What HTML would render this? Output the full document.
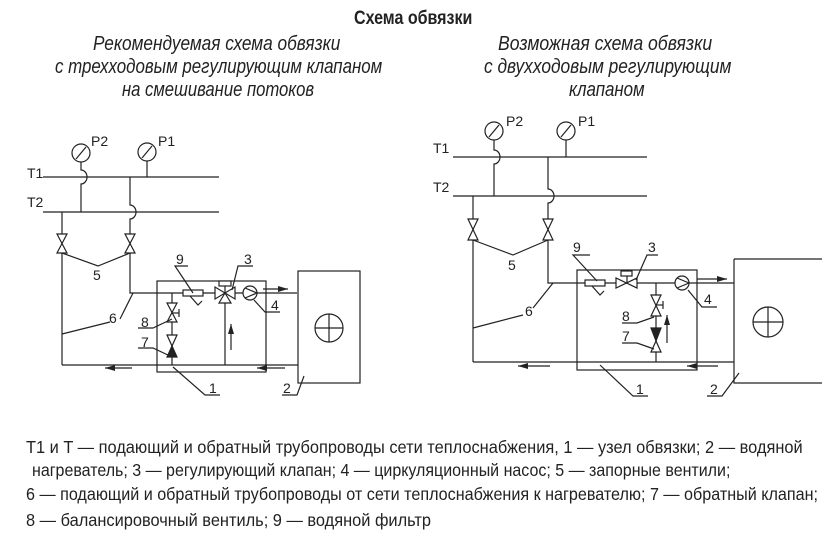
<!DOCTYPE html>
<html><head><meta charset="utf-8"><style>
html,body{margin:0;padding:0;background:#fff;width:822px;height:551px;overflow:hidden}
svg{display:block}
text{font-family:"Liberation Sans",sans-serif;fill:#222}
</style></head><body>
<svg width="822" height="551" viewBox="0 0 822 551" xmlns="http://www.w3.org/2000/svg">
<defs>
<marker id="ar" viewBox="0 0 10 6" refX="10" refY="3" markerWidth="10" markerHeight="6" markerUnits="userSpaceOnUse" orient="auto"><path d="M0,0 L10,3 L0,6 Z" fill="#222"/></marker>
</defs>
<text transform="translate(354,24) scale(0.8,1)" font-size="19" font-weight="bold" textLength="148" lengthAdjust="spacingAndGlyphs">Схема обвязки</text>
<g font-size="20" font-style="italic">
<text transform="translate(93,50) scale(0.85,1)" textLength="291" lengthAdjust="spacingAndGlyphs">Рекомендуемая схема обвязки</text>
<text transform="translate(55,73) scale(0.85,1)" textLength="385" lengthAdjust="spacingAndGlyphs">с трехходовым регулирующим клапаном</text>
<text transform="translate(122,96) scale(0.85,1)" textLength="226" lengthAdjust="spacingAndGlyphs">на смешивание потоков</text>
<text transform="translate(498,50) scale(0.85,1)" textLength="252" lengthAdjust="spacingAndGlyphs">Возможная схема обвязки</text>
<text transform="translate(484,73) scale(0.85,1)" textLength="291" lengthAdjust="spacingAndGlyphs">с двухходовым регулирующим</text>
<text transform="translate(569,96) scale(0.85,1)" textLength="89" lengthAdjust="spacingAndGlyphs">клапаном</text>
</g>
<g font-size="18">
<text transform="translate(26,453) scale(0.9,1)" textLength="863" lengthAdjust="spacingAndGlyphs">T1 и T   — подающий и обратный трубопроводы сети теплоснабжения, 1 — узел обвязки;   2 — водяной</text>
<text transform="translate(32,476) scale(0.9,1)" textLength="776" lengthAdjust="spacingAndGlyphs">нагреватель;   3 — регулирующий клапан; 4 — циркуляционный насос; 5 — запорные вентили;</text>
<text transform="translate(26,500) scale(0.9,1)" textLength="880" lengthAdjust="spacingAndGlyphs">6 — подающий и обратный трубопроводы от сети теплоснабжения к нагревателю; 7 — обратный клапан;</text>
<text transform="translate(26,526) scale(0.9,1)" textLength="450" lengthAdjust="spacingAndGlyphs">8 — балансировочный вентиль; 9 — водяной фильтр</text>
</g>

<!-- LEFT DIAGRAM -->
<g stroke="#222" stroke-width="1.2" fill="none">
<line x1="43" y1="177" x2="219" y2="177"/>
<line x1="43" y1="212" x2="219" y2="212"/>
<circle cx="81" cy="153" r="9"/><line x1="76" y1="159" x2="86" y2="147"/>
<circle cx="147" cy="152" r="9"/><line x1="142" y1="158" x2="152" y2="146"/>
<line x1="147" y1="161" x2="147" y2="177"/>
<path d="M81,162 L81,170 A6,7 0 0 1 81,184 L81,212"/>
<path d="M130,177 L130,205 A6,7 0 0 1 130,219 L130,293 L297,293"/>
<line x1="62" y1="212" x2="62" y2="365"/>
<line x1="62" y1="365" x2="298" y2="365"/>
<path d="M57,234 L67,234 L57,253 L67,253 Z" fill="#fff"/>
<path d="M125,234 L135,234 L125,253 L135,253 Z" fill="#fff"/>
<polyline points="62,253 98,266 130,253"/>
<rect x="157" y="281" width="109" height="91"/>
<rect x="298" y="271" width="62" height="112"/>
<circle cx="329" cy="328" r="14"/><line x1="315" y1="328" x2="343" y2="328"/><line x1="329" y1="314" x2="329" y2="342"/>
<rect x="183" y="290" width="20" height="6" fill="#fff"/><path d="M190,296 L198,305 L202,301"/>
<path d="M215,287 L215,299 L235,287 L235,299 Z" fill="#fff"/>
<path d="M219,303 L231,303 L225,293 Z" fill="#fff"/>
<rect x="219" y="281" width="12" height="5" fill="#fff"/><line x1="225" y1="286" x2="225" y2="293"/>
<line x1="225" y1="303" x2="225" y2="365"/>
<circle cx="250" cy="293" r="7" fill="#fff"/><path d="M245,288 L257,293 L245,298"/>
<line x1="172" y1="293" x2="172" y2="365"/>
<path d="M167,303 L177,303 L167,322 L177,322 Z" fill="#fff"/><line x1="172" y1="313" x2="179" y2="313"/><line x1="179" y1="309" x2="179" y2="317"/>
<path d="M167,335 L177,335 L172,346 Z" fill="#fff"/><path d="M167,357 L177,357 L172,346 Z" fill="#222"/>
<line x1="231" y1="350" x2="231" y2="324" marker-end="url(#ar)"/>
<line x1="132" y1="368" x2="105" y2="368" marker-end="url(#ar)"/>
<line x1="285" y1="368" x2="257" y2="368" marker-end="url(#ar)"/>
<line x1="263" y1="289" x2="288" y2="289" marker-end="url(#ar)"/>
<polyline points="188,266 175,266 193,293"/>
<polyline points="253,266 238,266 232,290"/>
<polyline points="280,312 265,312 254,300"/>
<polyline points="138,328 153,328 172,319"/>
<polyline points="138,348 153,348 170,356"/>
<line x1="62" y1="334" x2="110" y2="322"/>
<line x1="120" y1="319" x2="133" y2="293"/>
<polyline points="220,395 205,395 173,367"/>
<polyline points="282,395 297,395 304,376"/>
</g>
<g font-size="14">
<text x="27" y="178">T1</text>
<text x="27" y="207">T2</text>
<text x="91" y="146">P2</text>
<text x="158" y="146">P1</text>
<text x="93" y="280">5</text>
<text x="109" y="323">6</text>
<text x="176" y="264">9</text>
<text x="244" y="264">3</text>
<text x="271" y="310">4</text>
<text x="141" y="327">8</text>
<text x="141" y="347">7</text>
<text x="209" y="393">1</text>
<text x="283" y="393">2</text>
</g>

<!-- RIGHT DIAGRAM -->
<g stroke="#222" stroke-width="1.2" fill="none">
<line x1="453" y1="157" x2="647" y2="157"/>
<line x1="453" y1="196" x2="647" y2="196"/>
<circle cx="494" cy="131" r="9"/><line x1="489" y1="137" x2="499" y2="125"/>
<circle cx="566" cy="131" r="9"/><line x1="561" y1="137" x2="571" y2="125"/>
<line x1="566" y1="140" x2="566" y2="157"/>
<path d="M494,140 L494,150 A6,7 0 0 1 494,164 L494,196"/>
<path d="M548,157 L548,189 A6,7 0 0 1 548,203 L548,283 L734,283"/>
<line x1="473" y1="196" x2="473" y2="362"/>
<line x1="473" y1="362" x2="734" y2="362"/>
<path d="M468,219 L478,219 L468,240 L478,240 Z" fill="#fff"/>
<path d="M543,219 L553,219 L543,240 L553,240 Z" fill="#fff"/>
<polyline points="473,240 513,255 548,240"/>
<rect x="577" y="270" width="120" height="100"/>
<path d="M734,259 L822,259 M734,259 L734,383 L822,383"/>
<circle cx="768" cy="322" r="15"/><line x1="753" y1="322" x2="783" y2="322"/><line x1="768" y1="307" x2="768" y2="337"/>
<rect x="585" y="280" width="20" height="6" fill="#fff"/><path d="M592,286 L600,295 L604,291"/>
<path d="M616,278 L616,288 L637,278 L637,288 Z" fill="#fff"/>
<rect x="621" y="271" width="11" height="5" fill="#fff"/><line x1="627" y1="276" x2="627" y2="283"/>
<circle cx="682" cy="283" r="7" fill="#fff"/><path d="M677,278 L689,283 L677,288"/>
<line x1="656" y1="283" x2="656" y2="362"/>
<path d="M651,295 L661,295 L651,316 L661,316 Z" fill="#fff"/><line x1="656" y1="305" x2="663" y2="305"/><line x1="663" y1="301" x2="663" y2="309"/>
<path d="M651,328 L661,328 L656,341 Z" fill="#222"/><path d="M651,352 L661,352 L656,341 Z" fill="#fff"/>
<line x1="667" y1="343" x2="667" y2="315" marker-end="url(#ar)"/>
<line x1="550" y1="366" x2="518" y2="366" marker-end="url(#ar)"/>
<line x1="718" y1="366" x2="687" y2="366" marker-end="url(#ar)"/>
<line x1="697" y1="279" x2="727" y2="279" marker-end="url(#ar)"/>
<polyline points="590,255 573,255 597,281"/>
<polyline points="658,255 647,255 636,280"/>
<polyline points="717,307 702,307 688,290"/>
<polyline points="622,323 637,323 654,317"/>
<polyline points="622,343 637,343 654,349"/>
<line x1="473" y1="328" x2="523" y2="315"/>
<line x1="533" y1="308" x2="553" y2="283"/>
<polyline points="648,396 633,396 600,365"/>
<polyline points="707,396 722,396 739,373"/>
</g>
<g font-size="14">
<text x="433" y="153">T1</text>
<text x="433" y="192">T2</text>
<text x="506" y="126">P2</text>
<text x="578" y="126">P1</text>
<text x="508" y="270">5</text>
<text x="525" y="316">6</text>
<text x="573" y="252">9</text>
<text x="648" y="252">3</text>
<text x="704" y="304">4</text>
<text x="622" y="321">8</text>
<text x="622" y="341">7</text>
<text x="636" y="394">1</text>
<text x="710" y="394">2</text>
</g>
</svg>
</body></html>
